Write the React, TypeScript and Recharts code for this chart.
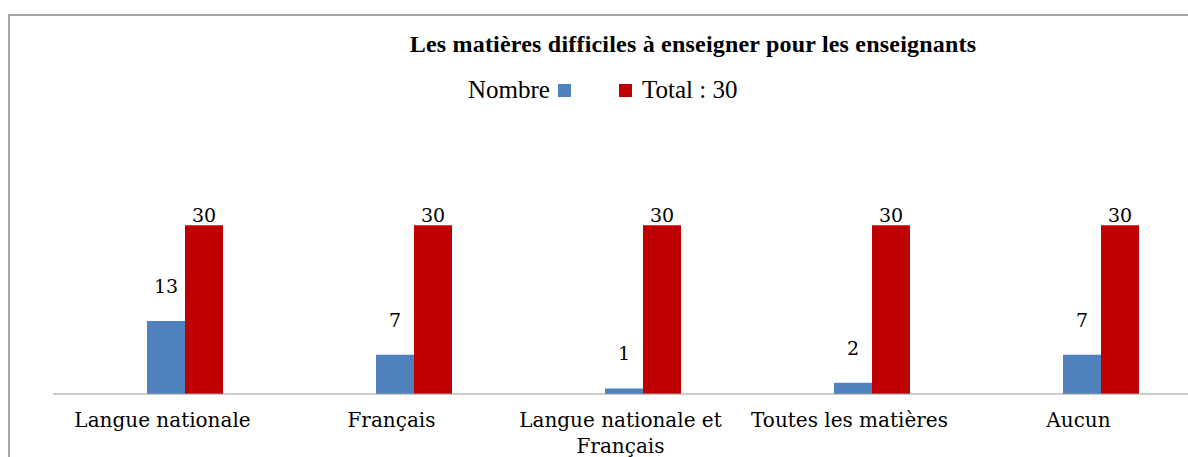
import React from 'react';
import { BarChart, Bar, XAxis, YAxis, LabelList, Text } from 'recharts';

const categories = [
  'Langue nationale',
  'Français',
  'Langue nationale et Français',
  'Toutes les matières',
  'Aucun',
];
const nombre = [13, 7, 1, 2, 7];
const total = [30, 30, 30, 30, 30];
const seriesNames = ['Nombre', 'Total : 30'];
const title = 'Les matières difficiles à enseigner pour les enseignants';

const BLUE = '#4F81BD';
const RED = '#C00000';

const data = categories.map((name, i) => ({ name, nombre: nombre[i], total: total[i] }));

const serif = '"Liberation Serif", "Times New Roman", serif';
const labelFont = '"DejaVu Serif", serif';

function CategoryTick(props: any) {
  const { x, y, payload } = props;
  return (
    <Text
      x={x - 22}
      y={y + 11}
      width={222}
      textAnchor="middle"
      verticalAnchor="start"
      lineHeight={26}
      style={{ fontFamily: labelFont, fontSize: 20, fill: '#000' }}
    >
      {payload.value}
    </Text>
  );
}

const Square = ({ color }: { color: string }) => (
  <span style={{ display: 'inline-block', width: 13, height: 13, background: color }} />
);

export default function App() {
  return (
    <div
      style={{
        position: 'absolute',
        top: 14,
        left: 8,
        width: 1180,
        height: 443,
        boxSizing: 'border-box',
        borderTop: '2px solid #a6a6a6',
        borderLeft: '2px solid #a6a6a6',
        overflow: 'hidden',
        background: '#fff',
      }}
    >
      <div
        style={{
          position: 'absolute',
          top: 15,
          left: 368,
          width: 630,
          textAlign: 'center',
          fontFamily: serif,
          fontWeight: 'bold',
          fontSize: 24,
          letterSpacing: 0.2,
          color: '#000',
          whiteSpace: 'nowrap',
        }}
      >
        {title}
      </div>
      <div
        style={{
          position: 'absolute',
          top: 60,
          left: 458,
          fontFamily: serif,
          fontSize: 25,
          color: '#000',
          whiteSpace: 'nowrap',
          display: 'flex',
          alignItems: 'center',
        }}
      >
        <span>{seriesNames[0]}</span>
        <span style={{ marginLeft: 8, display: 'flex' }}><Square color={BLUE} /></span>
        <span style={{ marginLeft: 48, display: 'flex' }}><Square color={RED} /></span>
        <span style={{ marginLeft: 10 }}>{seriesNames[1]}</span>
      </div>
      <BarChart
        width={1220}
        height={441}
        data={data}
        margin={{ top: 153, right: 15, left: 43, bottom: 0 }}
        barGap={0}
      >
        <XAxis
          dataKey="name"
          height={63}
          padding={{ left: 17, right: 0 }}
          axisLine={{ stroke: '#999999' }}
          tickLine={false}
          interval={0}
          tick={<CategoryTick />}
        />
        <YAxis hide domain={[0, 40]} />
        <Bar dataKey="nombre" name={seriesNames[0]} fill={BLUE} barSize={38} isAnimationActive={false}>
          <LabelList
            dataKey="nombre"
            position="top"
            offset={28}
            style={{ fontFamily: labelFont, fontSize: 19, fill: '#000' }}
          />
        </Bar>
        <Bar dataKey="total" name={seriesNames[1]} fill={RED} barSize={38} isAnimationActive={false}>
          <LabelList
            dataKey="total"
            position="top"
            offset={3}
            style={{ fontFamily: labelFont, fontSize: 19, fill: '#000' }}
          />
        </Bar>
      </BarChart>
    </div>
  );
}
